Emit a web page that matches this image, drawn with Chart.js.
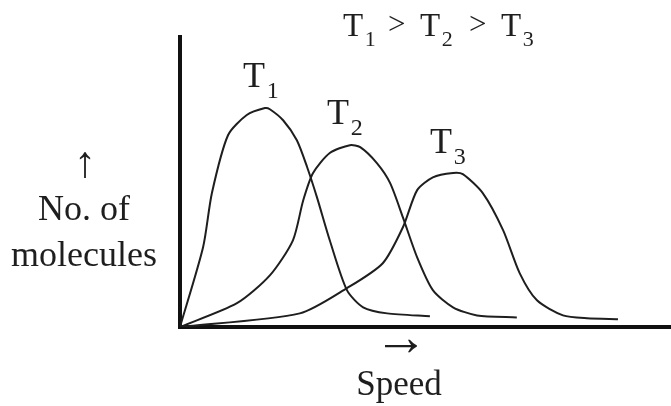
<!DOCTYPE html>
<html>
<head>
<meta charset="utf-8">
<script src="https://cdn.jsdelivr.net/npm/chart.js@4"></script>
<style>
  html, body { margin: 0; padding: 0; background: #fff; }
  #wrap { width: 671px; height: 406px; }
</style>
</head>
<body>
<div id="wrap"><canvas id="speedChart" width="671" height="406"></canvas></div>
<script>
// Maxwell distribution sketch, arbitrary units (0-100)
const t1Speed = [0, 4.7, 6.5, 9.8, 13.6, 17.3, 18.3, 21.0, 23.8, 25.9, 27.9, 30.5, 34.0, 37.3, 42.2, 50.9];
const t1Count = [0, 27.5, 46.2, 66.2, 73.1, 75.5, 75.1, 71.3, 64.4, 55.1, 44.7, 29.9, 12.7, 6.8, 4.7, 3.7];

const t2Speed = [0, 11.6, 18.3, 23.0, 25.1, 27.1, 30.5, 34.6, 36.7, 40.1, 42.8, 45.4, 48.3, 51.5, 55.6, 60.5, 68.6];
const t2Count = [0, 8.2, 17.8, 29.9, 43.7, 53.1, 60.0, 62.7, 62.0, 56.5, 49.6, 37.8, 24.0, 12.7, 6.8, 4.0, 3.3];

const t3Speed = [0, 24.4, 34.0, 41.3, 45.4, 48.3, 51.5, 55.6, 57.6, 61.7, 65.8, 69.2, 72.7, 78.0, 82.9, 89.2];
const t3Count = [0, 4.7, 13.4, 22.0, 34.4, 47.2, 51.6, 53.1, 52.7, 46.1, 33.4, 18.5, 9.2, 4.0, 3.0, 2.7];

const seriesNames = ["T1", "T2", "T3"];

function toPoints(xs, ys) {
    return xs.map((x, i) => ({ x: x, y: ys[i] }));
}

const ink = "#1e1e1e";
const serif = "'Liberation Serif', 'DejaVu Serif', serif";

// title, curve labels and axis captions
const textPlugin = {
    id: "sketchText",
    afterDraw(chart) {
        const ctx = chart.ctx;
        ctx.save();
        ctx.fillStyle = ink;
        ctx.textBaseline = "alphabetic";

        function tSub(x, y, sub, size) {
            ctx.font = size + "px " + serif;
            ctx.textAlign = "left";
            ctx.fillText("T", x, y);
            ctx.font = Math.round(size * 0.68) + "px " + serif;
            ctx.fillText(sub, x + size * 0.66, y + size * 0.3);
        }

        // title
        tSub(343, 36, "1", 33);
        ctx.font = "31px " + serif;
        ctx.fillText(">", 388, 34);
        tSub(420, 36, "2", 33);
        ctx.font = "31px " + serif;
        ctx.fillText(">", 469, 34);
        tSub(501, 36, "3", 33);

        // curve labels
        tSub(243, 87, "1", 36);
        tSub(327, 124, "2", 36);
        tSub(430, 153, "3", 36);

        // y axis caption
        ctx.textAlign = "center";
        ctx.font = "44px " + serif;
        ctx.fillText("\u2191", 85, 177);
        ctx.font = "36px " + serif;
        ctx.fillText("No. of", 84, 220);
        ctx.fillText("molecules", 84, 266);

        // x axis caption
        ctx.font = "54px " + serif;
        ctx.fillText("\u2192", 401, 355);
        ctx.font = "35px " + serif;
        ctx.fillText("Speed", 399, 395);
        ctx.restore();
    }
};

const ctx = document.getElementById("speedChart").getContext("2d");
new Chart(ctx, {
    type: "line",
    data: {
        datasets: [
            { label: seriesNames[0], data: toPoints(t1Speed, t1Count) },
            { label: seriesNames[1], data: toPoints(t2Speed, t2Count) },
            { label: seriesNames[2], data: toPoints(t3Speed, t3Count) }
        ]
    },
    options: {
        responsive: false,
        animation: false,
        layout: { padding: { left: 172, right: 0, top: 37, bottom: 71 } },
        elements: {
            line: { borderColor: ink, borderWidth: 2, tension: 0.25, fill: false },
            point: { radius: 0, hoverRadius: 0 }
        },
        plugins: {
            legend: { display: false },
            tooltip: { enabled: false }
        },
        scales: {
            x: {
                type: "linear",
                min: 0,
                max: 100,
                grid: { display: false },
                ticks: { display: false },
                border: { color: "#111", width: 4 }
            },
            y: {
                min: 0,
                max: 100,
                grid: { display: false },
                ticks: { display: false },
                border: { color: "#111", width: 4 }
            }
        }
    },
    plugins: [textPlugin]
});
</script>
</body>
</html>
